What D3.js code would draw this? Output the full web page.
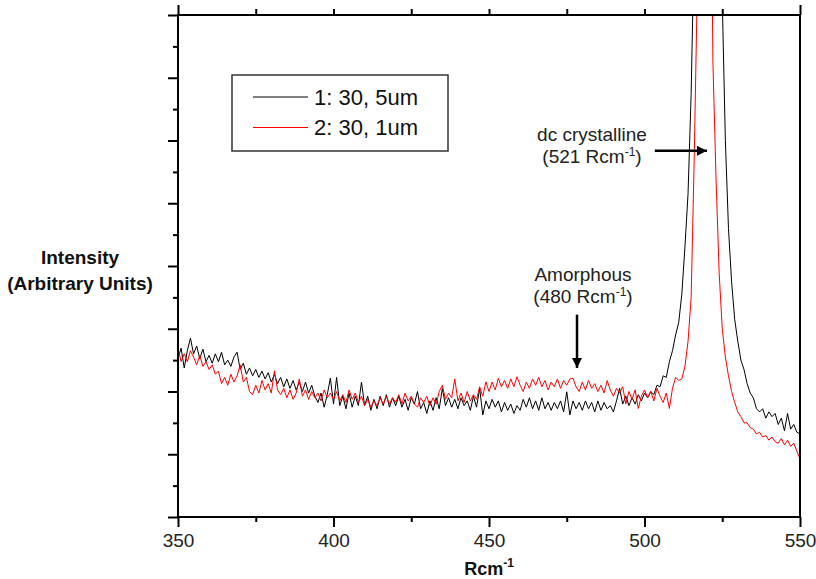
<!DOCTYPE html>
<html>
<head>
<meta charset="utf-8">
<script src="https://cdn.jsdelivr.net/npm/d3@7"></script>
<style>
  body { margin: 0; background: #fff; }
  text { font-family: "Liberation Sans", Arial, sans-serif; }
</style>
</head>
<body>
<div id="chart"></div>
<script>
// Raman shift grid (Rcm-1), one reading per wavenumber
var shift = d3.range(350, 551);

// 1: 30, 5um (black)
var sample1 = [
  5.06, 5.38, 4.75, 5.30, 5.70, 5.20, 5.45, 5.05, 5.35, 4.95,
  5.15, 4.90, 5.20, 4.95, 5.25, 4.85, 5.00, 4.80, 5.10, 5.25,
  4.70, 4.90, 4.55, 4.75, 4.50, 4.70, 4.45, 4.65, 4.40, 4.60,
  4.30, 4.55, 4.25, 4.45, 4.15, 4.40, 4.10, 4.35, 4.05, 4.30,
  4.00, 4.30, 3.95, 4.20, 3.85, 3.65, 3.95, 3.50, 3.90, 4.43,
  3.60, 4.45, 3.55, 3.85, 3.45, 3.95, 3.50, 3.85, 3.55, 4.30,
  3.55, 3.85, 3.40, 3.75, 3.45, 3.85, 3.55, 3.90, 3.50, 3.80,
  3.55, 3.85, 3.50, 3.75, 3.40, 3.80, 3.60, 4.00, 3.45, 3.65,
  3.30, 3.70, 3.40, 3.80, 3.45, 4.10, 3.55, 3.80, 3.50, 3.75,
  3.45, 3.80, 3.55, 3.70, 3.40, 3.85, 3.50, 4.10, 3.25, 3.70,
  3.45, 3.75, 3.50, 3.70, 3.35, 3.65, 3.40, 3.60, 3.30, 3.55,
  3.40, 3.75, 3.50, 3.80, 3.45, 3.70, 3.40, 3.80, 3.45, 3.65,
  3.40, 3.65, 3.45, 3.70, 3.35, 3.99, 3.25, 3.70, 3.45, 3.65,
  3.40, 3.70, 3.45, 3.65, 3.35, 3.70, 3.40, 3.65, 3.45, 3.55,
  3.35, 3.70, 4.10, 3.60, 3.85, 3.55, 3.80, 3.60, 3.90, 3.70,
  3.95, 3.80, 4.00, 3.90, 4.20, 4.15, 4.50, 4.45, 4.95, 5.30,
  5.80, 6.20, 7.10, 8.60, 10.3, 13.5, 18.5, 22.0, 27.0, 30.0,
  31.0, 30.0, 28.0, 24.0, 19.0, 16.5, 12.0, 9.20, 7.50, 6.30,
  5.60, 5.00, 4.70, 4.25, 3.95, 3.80, 3.45, 3.35, 3.45, 3.15,
  3.35, 3.20, 3.30, 2.95, 3.15, 2.75, 3.30, 2.80, 2.95, 2.70,
  2.65
];

// 2: 30, 1um (red)
var sample2 = [
  5.38, 4.96, 5.20, 4.95, 5.30, 5.10, 4.85, 5.15, 4.80, 4.95,
  4.70, 4.85, 4.55, 4.65, 4.25, 4.45, 4.20, 4.55, 4.30, 4.50,
  4.85, 4.30, 4.45, 4.00, 3.90, 4.20, 3.95, 4.35, 4.05, 4.25,
  3.95, 4.66, 4.05, 3.90, 4.10, 3.80, 4.05, 3.75, 3.95, 4.40,
  3.85, 4.05, 3.75, 4.00, 3.80, 3.95, 3.70, 4.05, 3.80, 3.95,
  3.75, 4.00, 3.70, 3.90, 3.65, 4.05, 3.75, 3.95, 3.65, 3.85,
  3.55, 3.75, 3.50, 3.70, 3.55, 3.80, 3.60, 3.85, 3.60, 3.80,
  3.65, 3.90, 3.60, 3.95, 3.70, 3.85, 3.60, 3.50, 3.80, 3.65,
  3.85, 3.55, 3.80, 3.60, 4.00, 4.20, 3.75, 3.95, 3.80, 4.40,
  3.70, 3.95, 3.65, 4.00, 3.70, 3.90, 3.75, 4.15, 3.85, 4.31,
  4.00, 4.30, 4.05, 4.42, 4.15, 4.35, 4.10, 4.40, 4.15, 4.47,
  4.20, 4.00, 4.30, 4.10, 4.40, 4.20, 4.45, 4.15, 4.35, 4.05,
  4.30, 4.15, 4.40, 4.10, 4.35, 4.20, 4.40, 4.42, 4.15, 4.00,
  4.30, 4.05, 4.35, 4.10, 4.25, 4.00, 4.20, 3.95, 4.35, 4.05,
  3.85, 4.10, 3.95, 4.15, 3.60, 4.00, 3.75, 4.05, 3.46, 3.85,
  4.05, 3.80, 4.00, 3.70, 4.10, 3.85, 3.65, 3.95, 3.46, 4.10,
  4.45, 4.35, 4.40, 4.80, 5.60, 7.00, 11.5, 17.0, 23.0, 28.0,
  30.0, 25.0, 14.5, 10.8, 7.80, 6.00, 5.10, 4.50, 4.00, 3.65,
  3.35, 3.20, 3.00, 3.00, 2.85, 2.80, 2.65, 2.70, 2.55, 2.60,
  2.45, 2.55, 2.40, 2.35, 2.50, 2.30, 2.45, 2.25, 2.35, 2.10,
  1.85
];

var seriesNames = ["1: 30, 5um", "2: 30, 1um"];
var seriesColors = ["#000000", "#ff0000"];
var xMajorTicks = [350, 400, 450, 500, 550];
var xMinorTicks = [375, 425, 475, 525];
var yMajorTicks = [0, 2, 4, 6, 8, 10, 12, 14, 16];
var yMinorTicks = [1, 3, 5, 7, 9, 11, 13, 15];

var margin = { top: 15, right: 16, bottom: 62, left: 178 },
    width = 816 - margin.left - margin.right,
    height = 579 - margin.top - margin.bottom;

var svg = d3.select("#chart")
    .append("svg")
    .attr("width", 816)
    .attr("height", 579)
    .append("g")
    .attr("transform", "translate(" + margin.left + "," + margin.top + ")");

var x = d3.scaleLinear().domain([350, 550]).range([0, width]);
var y = d3.scaleLinear().domain([0, 16]).range([height, 0]);

// clip so the peaks run off the top of the frame
svg.append("clipPath").attr("id", "plot-clip")
    .append("rect").attr("width", width).attr("height", height);

// axes
function styleAxis(g) {
    g.select(".domain").remove();
    g.selectAll(".tick line").attr("stroke", "#000").attr("stroke-width", 2);
    g.selectAll(".tick text")
        .attr("fill", "#222")
        .style("font-size", "19px");
}

svg.append("g")
    .attr("transform", "translate(0," + height + ")")
    .call(d3.axisBottom(x).tickValues(xMajorTicks).tickSize(10).tickPadding(7).tickFormat(d3.format("d")))
    .call(styleAxis);

svg.append("g")
    .attr("transform", "translate(0," + height + ")")
    .call(d3.axisBottom(x).tickValues(xMinorTicks).tickSize(5).tickFormat(""))
    .call(styleAxis);

svg.append("g")
    .call(d3.axisTop(x).tickValues(xMinorTicks.concat([400, 450, 500])).tickSize(6).tickFormat(""))
    .call(styleAxis);

svg.append("g")
    .call(d3.axisTop(x).tickValues([350, 550]).tickSize(10).tickFormat(""))
    .call(styleAxis);

svg.append("g")
    .call(d3.axisLeft(y).tickValues(yMajorTicks).tickSize(10).tickFormat(""))
    .call(styleAxis);

svg.append("g")
    .call(d3.axisLeft(y).tickValues(yMinorTicks).tickSize(5).tickFormat(""))
    .call(styleAxis);

// spectra
var line = d3.line()
    .x(function(d) { return x(d[0]); })
    .y(function(d) { return y(d[1]); });

[sample1, sample2].forEach(function(vals, i) {
    svg.append("path")
        .datum(shift.map(function(s, k) { return [s, vals[k]]; }))
        .attr("clip-path", "url(#plot-clip)")
        .attr("fill", "none")
        .attr("stroke", seriesColors[i])
        .attr("stroke-width", 1)
        .attr("d", line);
});

// frame
svg.append("rect")
    .attr("width", width)
    .attr("height", height)
    .attr("fill", "none")
    .attr("stroke", "#000")
    .attr("stroke-width", 2);

// legend
var legend = svg.append("g").attr("transform", "translate(" + (232 - margin.left) + "," + (75 - margin.top) + ")");
legend.append("rect")
    .attr("width", 216).attr("height", 76)
    .attr("fill", "#fff").attr("stroke", "#333").attr("stroke-width", 1.5);
seriesNames.forEach(function(name, i) {
    legend.append("line")
        .attr("x1", 21).attr("x2", 76)
        .attr("y1", 22 + i * 30.5).attr("y2", 22 + i * 30.5)
        .attr("stroke", seriesColors[i]).attr("stroke-width", 1);
    legend.append("text")
        .attr("x", 82).attr("y", 30 + i * 30)
        .attr("fill", "#111")
        .style("font-size", "22px")
        .text(name);
});

// annotations
function note(cx, yTop, lines) {
    var t = svg.append("text")
        .attr("text-anchor", "middle")
        .attr("fill", "#222")
        .style("font-size", "19px");
    t.append("tspan").attr("x", cx).attr("y", yTop).text(lines[0]);
    var t2 = t.append("tspan").attr("x", cx).attr("y", yTop + 22);
    t2.append("tspan").text(lines[1]);
    t2.append("tspan").attr("dy", -7).style("font-size", "12px").text("-1");
    t2.append("tspan").attr("dy", 7).text(")");
}

note(592 - margin.left, 141 - margin.top, ["dc crystalline", "(521 Rcm"]);
note(583 - margin.left, 281 - margin.top, ["Amorphous", "(480 Rcm"]);

svg.append("defs").append("marker")
    .attr("id", "head")
    .attr("viewBox", "0 0 10 10")
    .attr("refX", 10).attr("refY", 5)
    .attr("markerWidth", 10).attr("markerHeight", 10)
    .attr("markerUnits", "userSpaceOnUse")
    .attr("orient", "auto")
    .append("path").attr("d", "M0,0L10,5L0,10Z").attr("fill", "#000");

svg.append("line")
    .attr("x1", x(521) - 55).attr("x2", x(520.1))
    .attr("y1", y(11.67)).attr("y2", y(11.67))
    .attr("stroke", "#000").attr("stroke-width", 2.5)
    .attr("marker-end", "url(#head)");

svg.append("line")
    .attr("x1", x(478.3)).attr("x2", x(478.3))
    .attr("y1", y(6.45)).attr("y2", y(4.75))
    .attr("stroke", "#000").attr("stroke-width", 2.5)
    .attr("marker-end", "url(#head)");

// axis titles
var yTitle = svg.append("text")
    .attr("text-anchor", "middle")
    .attr("font-weight", "bold")
    .attr("fill", "#111")
    .style("font-size", "19px");
yTitle.append("tspan").attr("x", 80 - margin.left).attr("y", 264 - margin.top).text("Intensity");
yTitle.append("tspan").attr("x", 80 - margin.left).attr("y", 290 - margin.top).text("(Arbitrary Units)");

var xTitle = svg.append("text")
    .attr("x", 489 - margin.left)
    .attr("y", 575 - margin.top)
    .attr("text-anchor", "middle")
    .attr("font-weight", "bold")
    .attr("fill", "#111")
    .style("font-size", "18px");
xTitle.append("tspan").text("Rcm");
xTitle.append("tspan").attr("dy", -8).style("font-size", "12px").text("-1");
</script>
</body>
</html>
